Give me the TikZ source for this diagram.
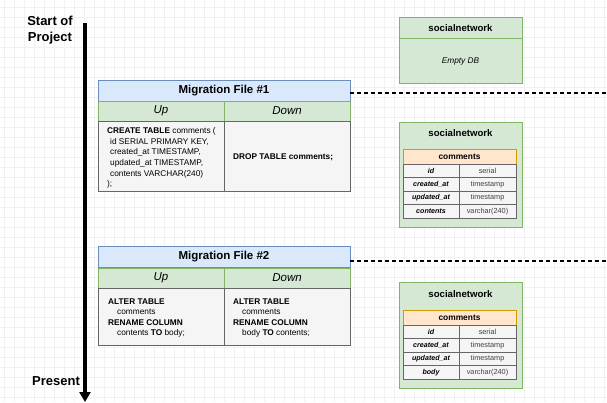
\documentclass[tikz,border=0pt]{standalone}
\usepackage{fontspec}
\setmainfont{Liberation Sans}
\usetikzlibrary{arrows.meta}

\definecolor{headblue}{HTML}{DAE8FC}
\definecolor{lineblue}{HTML}{6C8EBF}
\definecolor{headgreen}{HTML}{D5E8D4}
\definecolor{linegreen}{HTML}{82B366}
\definecolor{cellgrey}{HTML}{F5F5F5}
\definecolor{linegrey}{HTML}{666666}
\definecolor{headorange}{HTML}{FFE6CC}
\definecolor{lineorange}{HTML}{D79B00}
\definecolor{gridgrey}{HTML}{F1F1F1}

\tikzset{
  gridline/.style={draw=gridgrey, line width=0.6pt},
  timeline/.style={line width=4pt, -{Triangle[width=11pt,length=10pt]}},
  timedash/.style={line width=1.8pt, dash pattern=on 4pt off 3pt},
  milestone/.style={align=center, inner sep=0pt, font=\bfseries\fontsize{13}{16}\selectfont},
  migtitle/.style={draw=lineblue, fill=headblue, minimum width=252pt, minimum height=21pt,
    inner sep=0pt, font=\bfseries\fontsize{11.5}{13}\selectfont},
  updown/.style={draw=linegreen, fill=headgreen, minimum width=126pt, minimum height=20pt,
    inner sep=0pt, font=\itshape\fontsize{11.5}{13}\selectfont},
  sqlcell/.style={draw=linegrey, fill=cellgrey, minimum width=126pt, inner sep=0pt},
  sqltext/.style={anchor=west, align=left, inner sep=0pt, font=\fontsize{8.3}{10.6}\selectfont},
  dbbox/.style={draw=linegreen, fill=headgreen, minimum width=123pt, inner sep=0pt},
  dbtitle/.style={inner sep=0pt, font=\bfseries\fontsize{9.6}{11}\selectfont},
  tablehead/.style={draw=lineorange, fill=headorange, minimum width=113pt, minimum height=15pt,
    inner sep=0pt, font=\bfseries\fontsize{8.4}{9}\selectfont},
  keycell/.style={draw=linegrey, fill=cellgrey, minimum width=56pt, minimum height=13.5pt,
    inner sep=0pt, font=\bfseries\itshape\fontsize{7.1}{8}\selectfont},
  typecell/.style={draw=linegrey, fill=cellgrey, minimum width=57pt, minimum height=13.5pt,
    inner sep=0pt, text=black!75, font=\fontsize{7.3}{8}\selectfont}
}

\begin{document}
\begin{tikzpicture}[x=1pt, y=-1pt]
  \useasboundingbox (0,0) rectangle (607,402);
  \fill[white] (0,0) rectangle (607,402);

  %grid
  \foreach \gx in {4,14,...,604} \draw[gridline] (\gx,0) -- (\gx,402);
  \foreach \gy in {7,17,...,397} \draw[gridline] (0,\gy) -- (607,\gy);

  %timeline
  \coordinate (start) at (85,23);
  \coordinate (present) at (85,402);
  \draw[timeline] (start) -- (present);
  \node[milestone] (startlbl) at (50,30) {Start of\\Project};
  \node[milestone] (presentlbl) at (56,381) {Present};

  %migration 1
  \node[migtitle] (mig1) at (224,90.5) {Migration File \#1};
  \node[updown] (up1) at (161,111) {Up};
  \node[updown] (down1) at (287,111) {Down};
  \node[sqlcell, minimum height=70pt] (upbody1) at (161,156) {};
  \node[sqlcell, minimum height=70pt] (downbody1) at (287,156) {};
  \node[sqltext] (upsql1) at (107,158) {\textbf{CREATE TABLE} comments (\\
    \hspace{3pt}id SERIAL PRIMARY KEY,\\
    \hspace{3pt}created\_at TIMESTAMP,\\
    \hspace{3pt}updated\_at TIMESTAMP,\\
    \hspace{3pt}contents VARCHAR(240)\\
    );};
  \node[sqltext] (downsql1) at (233,157) {\textbf{DROP TABLE comments;}};
  \coordinate (end1) at (607,93);
  \draw[timedash] (mig1.east |- end1) -- (end1);

  %migration 2
  \node[migtitle] (mig2) at (224,257) {Migration File \#2};
  \node[updown] (up2) at (161,278) {Up};
  \node[updown] (down2) at (287,278) {Down};
  \node[sqlcell, minimum height=57pt] (upbody2) at (161,316.5) {};
  \node[sqlcell, minimum height=57pt] (downbody2) at (287,316.5) {};
  \node[sqltext] (upsql2) at (108,318) {\textbf{ALTER TABLE}\\
    \hspace{9pt}comments\\
    \textbf{RENAME COLUMN}\\
    \hspace{9pt}contents \textbf{TO} body;};
  \node[sqltext] (downsql2) at (233,318) {\textbf{ALTER TABLE}\\
    \hspace{9pt}comments\\
    \textbf{RENAME COLUMN}\\
    \hspace{9pt}body \textbf{TO} contents;};
  \coordinate (end2) at (607,261);
  \draw[timedash] (mig2.east |- end2) -- (end2);

  %database before
  \node[dbbox, minimum height=66pt] (db1) at (460.5,50) {};
  \draw[linegreen] (db1.west |- 0,38) -- (db1.east |- 0,38);
  \node[dbtitle] (db1title) at (460.5,28) {socialnetwork};
  \node[font=\itshape\fontsize{8.3}{9}\selectfont] (db1empty) at (460.5,62) {Empty DB};

  %database after migration 1
  \node[dbbox, minimum height=105pt] (db2) at (460.5,174.5) {};
  \node[dbtitle] (db2title) at (460.5,133) {socialnetwork};
  \node[tablehead] (db2table) at (459.5,156.5) {comments};
  \foreach \col/\kind [count=\i] in {id/serial, created\_at/timestamp,
      updated\_at/timestamp, contents/varchar(240)} {
    \node[keycell] (db2key\i) at (431,{157.25+13.5*\i}) {\col};
    \node[typecell] (db2type\i) at (487.5,{157.25+13.5*\i}) {\kind};
  }

  %database after migration 2
  \node[dbbox, minimum height=106pt] (db3) at (460.5,335) {};
  \node[dbtitle] (db3title) at (460.5,294) {socialnetwork};
  \node[tablehead] (db3table) at (459.5,317.5) {comments};
  \foreach \col/\kind [count=\i] in {id/serial, created\_at/timestamp,
      updated\_at/timestamp, body/varchar(240)} {
    \node[keycell] (db3key\i) at (431,{318.25+13.5*\i}) {\col};
    \node[typecell] (db3type\i) at (487.5,{318.25+13.5*\i}) {\kind};
  }
\end{tikzpicture}
\end{document}
